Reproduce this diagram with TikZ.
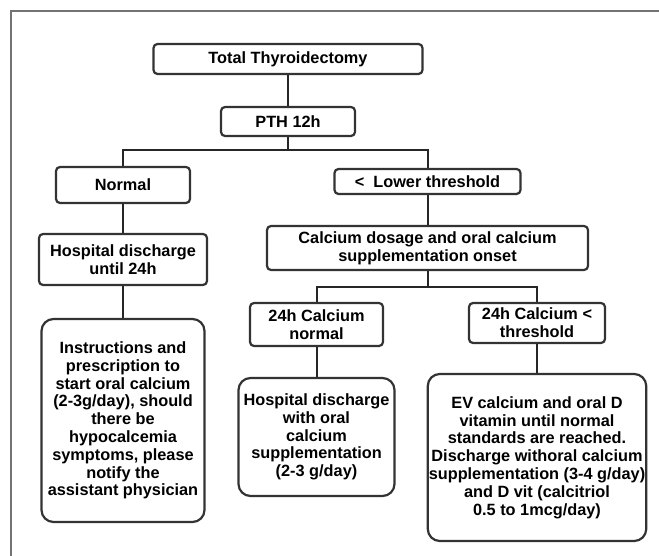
\documentclass[tikz,border=0pt]{standalone}
\usepackage{fontspec}
\setmainfont{Liberation Sans}
\usepackage{tikz}
\usetikzlibrary{arrows,positioning,calc}

\begin{document}
\begin{tikzpicture}[x=1pt,y=-1pt]
\tikzstyle{trait}=[line width=2pt,draw=black!85]
\tikzstyle{cadre}=[line width=1.4pt,draw=black!55]
\tikzstyle{boite}=[draw=black!80,line width=2.2pt,rounded corners=4pt,fill=white,align=center,inner sep=1pt,font=\bfseries\fontsize{16.3}{17.8}\selectfont]
\tikzstyle{grandeboite}=[boite,rounded corners=12pt]
\def\ColonneA{123}
\def\ColonneB{288}
\def\ColonneC{316.5}
\def\ColonneD{427.5}
\def\ColonneE{537}
\def\NiveauA{59}
\def\NiveauB{121.5}
\def\NiveauC{183}
\def\NiveauD{252}
\def\NiveauE{324}
\useasboundingbox (0,0) rectangle (659,556);
\draw[cadre] (11,556) -- (11,11) -- (659,11);
\node[boite,minimum width=269,minimum height=30] (TT) at ({\ColonneB},{\NiveauA}) {Total Thyroidectomy};
\node[boite,minimum width=134,minimum height=29] (PTH) at ({\ColonneB},{\NiveauB}) {PTH 12h};
\node[boite,minimum width=134,minimum height=36] (Nor) at ({\ColonneA},{\NiveauC+2}) {Normal};
\node[boite,minimum width=186,minimum height=25] (Low) at ({\ColonneD},{\NiveauC-1.5}) {<\ \ Lower threshold};
\node[boite,minimum width=168,minimum height=51] (HD) at ({\ColonneA},{\NiveauD+7.5}) {Hospital discharge\\until 24h};
\node[boite,minimum width=321,minimum height=44] (CD) at ({\ColonneD},{\NiveauD-4}) {Calcium dosage and oral calcium\\supplementation onset};
\node[boite,minimum width=133,minimum height=43] (CaN) at ({\ColonneC},{\NiveauE+0.5}) {24h Calcium\\normal};
\node[boite,minimum width=136,minimum height=40] (CaS) at ({\ColonneE},{\NiveauE-1}) {24h Calcium <\\threshold};
\node[grandeboite,minimum width=163,minimum height=203] (Ins) at ({\ColonneA},420.5) {Instructions and\\prescription to\\start oral calcium\\(2-3g/day), should\\there be\\hypocalcemia\\symptoms, please\\notify the\\assistant physician};
\node[grandeboite,minimum width=156,minimum height=118] (HO) at ({\ColonneC},437) {Hospital discharge\\with oral\\calcium\\supplementation\\(2-3 g/day)};
\node[grandeboite,minimum width=215,minimum height=167] (EV) at ({\ColonneE},457.5) {EV calcium and oral D\\vitamin until normal\\standards are reached.\\Discharge withoral calcium\\supplementation (3-4 g/day)\\and D vit (calcitriol\\0.5 to 1mcg/day)};
\draw[trait] (TT)--(PTH);
\draw[trait] (PTH.south)--++(0,13)-|(Nor.north);
\draw[trait] (PTH.south)--++(0,13)-|(Low.north);
\draw[trait] (Nor)--(HD);
\draw[trait] (HD)--(Ins);
\draw[trait] (Low)--(CD);
\draw[trait] (CD.south)--++(0,16)-|(CaN.north);
\draw[trait] (CD.south)--++(0,16)-|(CaS.north);
\draw[trait] (CaN)--(HO);
\draw[trait] (CaS)--(EV);
\end{tikzpicture}
\end{document}
